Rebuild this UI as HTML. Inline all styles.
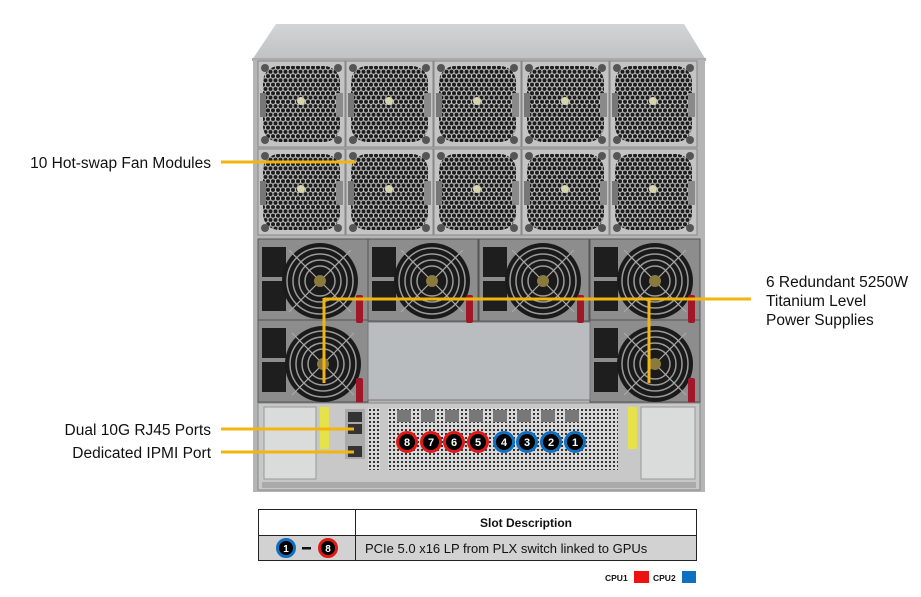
<!DOCTYPE html>
<html><head><meta charset="utf-8"><style>
html,body{margin:0;padding:0;background:#fff;}
svg{display:block;}
text{font-family:"Liberation Sans",Arial,sans-serif;}
</style></head><body>
<svg width="921" height="597" viewBox="0 0 921 597" xmlns="http://www.w3.org/2000/svg">
<defs>
<pattern id="hex" width="5" height="8.6" patternUnits="userSpaceOnUse">
<rect width="5" height="8.6" fill="#c0c0c0"/>
<circle cx="2.5" cy="2.15" r="2" fill="#1c1c1c"/>
<circle cx="0" cy="6.45" r="2" fill="#1c1c1c"/>
<circle cx="5" cy="6.45" r="2" fill="#1c1c1c"/>
</pattern>
<pattern id="perf" width="4" height="4" patternUnits="userSpaceOnUse">
<rect width="4" height="4" fill="#d8d8d8"/>
<rect x="1" y="1" width="2" height="2" fill="#333"/>
</pattern>
<linearGradient id="lid" x1="0" y1="0" x2="0" y2="1">
<stop offset="0" stop-color="#d2d4d6"/><stop offset="1" stop-color="#bfc1c3"/>
</linearGradient>
<g id="fanmod">
<rect x="0" y="0" width="87" height="86" fill="#c4c4c4" stroke="#888" stroke-width="1"/>
<rect x="5" y="5" width="77" height="76" rx="16" fill="url(#hex)"/>
<circle cx="7" cy="7" r="4" fill="#555"/><circle cx="80" cy="7" r="4" fill="#555"/>
<circle cx="7" cy="79" r="4" fill="#555"/><circle cx="80" cy="79" r="4" fill="#555"/>
<rect x="2" y="32" width="6" height="24" fill="#777"/>
<rect x="78" y="32" width="7" height="24" fill="#8a8a8a"/>
<circle cx="43" cy="40" r="4" fill="#d8d4b0"/>
</g>
<g id="pfan">
<circle r="38" fill="#1a1a1a"/>
<circle r="33" fill="none" stroke="#9a9a9a" stroke-width="1.5"/>
<circle r="27" fill="none" stroke="#9a9a9a" stroke-width="1.5"/>
<circle r="21" fill="none" stroke="#9a9a9a" stroke-width="1.5"/>
<circle r="15" fill="none" stroke="#9a9a9a" stroke-width="1.5"/>
<line x1="-31" y1="-31" x2="31" y2="31" stroke="#aaa" stroke-width="1.2"/>
<line x1="-31" y1="31" x2="31" y2="-31" stroke="#aaa" stroke-width="1.2"/>
<circle r="6" fill="#8a7a40"/>
</g>
<g id="psu">
<rect x="0" y="0" width="110" height="82" fill="#8d8d8d" stroke="#555"/>
<rect x="4" y="8" width="24" height="30" fill="#1e1e1e"/>
<rect x="4" y="42" width="24" height="30" fill="#1e1e1e"/>
</g>
</defs>

<polygon points="276,24 684,24 706,60 252,60" fill="url(#lid)"/>
<rect x="252" y="58" width="454" height="3" fill="#aaa"/>
<rect x="253" y="60" width="452" height="432" fill="#b5b5b5"/>

<use href="#fanmod" x="258" y="61"/><use href="#fanmod" x="346" y="61"/><use href="#fanmod" x="434" y="61"/><use href="#fanmod" x="522" y="61"/><use href="#fanmod" x="610" y="61"/>
<use href="#fanmod" x="258" y="149"/><use href="#fanmod" x="346" y="149"/><use href="#fanmod" x="434" y="149"/><use href="#fanmod" x="522" y="149"/><use href="#fanmod" x="610" y="149"/>

<use href="#psu" x="258" y="239"/><use href="#psu" x="368" y="239"/><use href="#psu" x="479" y="239"/><use href="#psu" x="590" y="239"/>
<use href="#psu" x="258" y="320"/><use href="#psu" x="590" y="320"/>
<rect x="368" y="322" width="222" height="78" fill="#b9bdc0" stroke="#777"/>
<use href="#pfan" x="320" y="281"/><use href="#pfan" x="432" y="281"/><use href="#pfan" x="543" y="281"/><use href="#pfan" x="655" y="281"/>
<use href="#pfan" x="323" y="364"/><use href="#pfan" x="655" y="364"/>
<rect x="356" y="295" width="7" height="28" rx="2" fill="#a01828"/>
<rect x="466" y="295" width="7" height="28" rx="2" fill="#a01828"/>
<rect x="577" y="295" width="7" height="28" rx="2" fill="#a01828"/>
<rect x="688" y="295" width="7" height="28" rx="2" fill="#a01828"/>
<rect x="356" y="378" width="7" height="28" rx="2" fill="#a01828"/>
<rect x="688" y="378" width="7" height="28" rx="2" fill="#a01828"/>

<rect x="258" y="403" width="442" height="87" fill="#c8c8c8" stroke="#888"/>
<rect x="264" y="407" width="52" height="72" fill="#dadcdc" stroke="#999"/>
<rect x="320" y="407" width="9" height="42" fill="#e6e24a"/>
<rect x="345" y="409" width="20" height="50" fill="#aaa"/>
<rect x="348" y="412" width="14" height="10" fill="#333"/><rect x="348" y="424" width="14" height="10" fill="#333"/><rect x="348" y="446" width="14" height="11" fill="#333"/>
<rect x="368" y="408" width="12" height="62" fill="url(#perf)"/>
<rect x="388" y="408" width="230" height="62" fill="url(#perf)"/>
<rect x="628" y="407" width="9" height="42" fill="#e6e24a"/>
<rect x="641" y="407" width="54" height="72" fill="#dadcdc" stroke="#999"/>
<g fill="#777"><rect x="397" y="410" width="14" height="12"/><rect x="421" y="410" width="14" height="12"/><rect x="445" y="410" width="14" height="12"/><rect x="469" y="410" width="14" height="12"/><rect x="493" y="410" width="14" height="12"/><rect x="517" y="410" width="14" height="12"/><rect x="541" y="410" width="14" height="12"/><rect x="565" y="410" width="14" height="12"/></g>
<rect x="262" y="482" width="434" height="6" fill="#aaa"/>

<g font-size="11" font-weight="bold" fill="#fff" text-anchor="middle">
<circle cx="407" cy="442" r="9.5" fill="#000" stroke="#e01818" stroke-width="3"/><text x="407" y="446">8</text>
<circle cx="431" cy="442" r="9.5" fill="#000" stroke="#e01818" stroke-width="3"/><text x="431" y="446">7</text>
<circle cx="454" cy="442" r="9.5" fill="#000" stroke="#e01818" stroke-width="3"/><text x="454" y="446">6</text>
<circle cx="478" cy="442" r="9.5" fill="#000" stroke="#e01818" stroke-width="3"/><text x="478" y="446">5</text>
<circle cx="504" cy="442" r="9.5" fill="#000" stroke="#1070c0" stroke-width="3"/><text x="504" y="446">4</text>
<circle cx="527" cy="442" r="9.5" fill="#000" stroke="#1070c0" stroke-width="3"/><text x="527" y="446">3</text>
<circle cx="551" cy="442" r="9.5" fill="#000" stroke="#1070c0" stroke-width="3"/><text x="551" y="446">2</text>
<circle cx="575" cy="442" r="9.5" fill="#000" stroke="#1070c0" stroke-width="3"/><text x="575" y="446">1</text>
</g>

<g stroke="#f2b50f" stroke-width="3" fill="none">
<line x1="221" y1="162" x2="356" y2="162"/>
<line x1="221" y1="429" x2="354" y2="429"/>
<line x1="221" y1="452" x2="354" y2="452"/>
<line x1="324" y1="299" x2="751" y2="299"/>
<line x1="324" y1="298" x2="324" y2="383"/>
<line x1="649" y1="298" x2="649" y2="383"/>
</g>

<g font-size="15.5" fill="#111">
<text x="211" y="168" text-anchor="end">10 Hot-swap Fan Modules</text>
<text x="211" y="435" text-anchor="end">Dual 10G RJ45 Ports</text>
<text x="211" y="458" text-anchor="end">Dedicated IPMI Port</text>
<text x="766" y="287">6 Redundant 5250W</text>
<text x="766" y="306">Titanium Level</text>
<text x="766" y="325">Power Supplies</text>
</g>

<rect x="258" y="509" width="439" height="26" fill="#fff"/>
<rect x="258" y="535" width="439" height="25" fill="#d2d2d2"/>
<g stroke="#222" stroke-width="1">
<line x1="258" y1="509.5" x2="697" y2="509.5"/>
<line x1="258" y1="535.5" x2="697" y2="535.5"/>
<line x1="258" y1="560.5" x2="697" y2="560.5"/>
<line x1="258.5" y1="509" x2="258.5" y2="561"/>
<line x1="355.5" y1="509" x2="355.5" y2="561"/>
<line x1="696.5" y1="509" x2="696.5" y2="561"/>
</g>
<text x="526" y="527" font-size="12" font-weight="bold" text-anchor="middle" fill="#111">Slot Description</text>
<text x="365" y="553" font-size="13" fill="#111">PCIe 5.0 x16 LP from PLX switch linked to GPUs</text>
<g font-size="10" font-weight="bold" fill="#fff" text-anchor="middle">
<circle cx="286" cy="548" r="8.5" fill="#000" stroke="#1070c0" stroke-width="3"/><text x="286" y="552">1</text>
<circle cx="328" cy="548" r="8.5" fill="#000" stroke="#e01818" stroke-width="3"/><text x="328" y="552">8</text>
</g>
<rect x="302" y="547" width="9" height="2.5" fill="#111"/>

<text x="605" y="581" font-size="8.5" font-weight="bold" fill="#111">CPU1</text>
<rect x="634" y="571" width="15" height="12" fill="#ee1111"/>
<text x="653" y="581" font-size="8.5" font-weight="bold" fill="#111">CPU2</text>
<rect x="682" y="571" width="14" height="12" fill="#1070c0"/>
</svg>
</body></html>
